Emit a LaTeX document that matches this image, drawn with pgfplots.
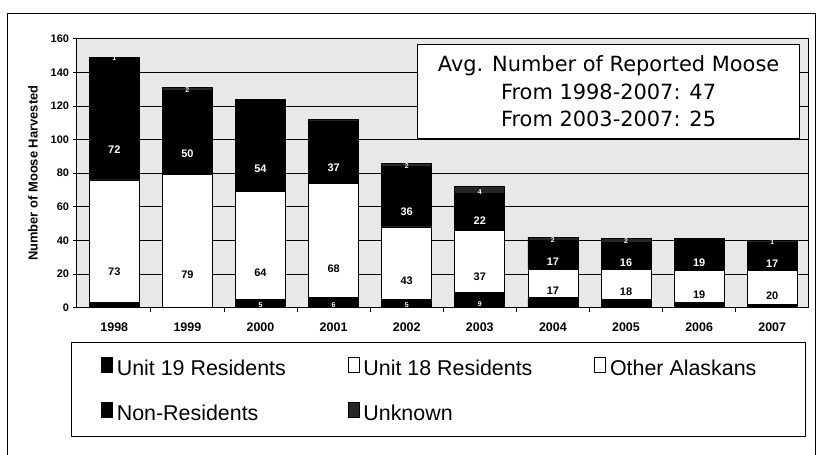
\documentclass[border=0pt]{standalone}
\usepackage{pgfplots}
\pgfplotsset{compat=1.18}
\usepackage{pgfplotstable}
\usepackage{fontspec}
\setmainfont{Liberation Sans}
\newfontfamily\boxfont{DejaVu Sans}

% moose harvested per year, split by hunter residency
\pgfplotstableread{
x u19 l19 u18 oth non unk lunk
0 3   {}  0   73  72  1   1
1 0   {}  0   79  50  2   2
2 5   5   0   64  54  1   {}
3 6   6   0   68  37  1   {}
4 5   5   0   43  36  2   2
5 9   9   0   37  22  4   4
6 6   {}  0   17  17  2   2
7 5   {}  0   18  16  2   2
8 3   {}  0   19  19  0   {}
9 2   {}  0   20  17  1   1
}\moose

% label in the middle of each stacked segment
% (the shift ends up applied twice, hence /4)
\pgfplotsset{
  seg/.style={nodes near coords, point meta=explicit symbolic,
    visualization depends on={rawy \as \segh},
    every node near coord/.append style={anchor=center,
      shift={(axis direction cs:0,-\segh/4)}}},
}
\newcommand\legtxt[2][233bp]{\makebox[#1][l]{\hspace{2bp}\rule[-4.6bp]{0pt}{24.6bp}#2}}

\begin{document}
\begin{tikzpicture}[x=1bp,y=1bp]
\useasboundingbox (0,0) rectangle (820,455);
\draw[line width=0.8bp] (7,0) -- (7,442) -- (815,442) -- (815,0);
\begin{axis}[
  at={(76.5bp,147.3bp)}, anchor=south west,
  width=731.5bp, height=269bp, scale only axis,
  ybar stacked, bar width=0.684,
  xmin=-0.517, xmax=9.49, ymin=0, ymax=160,
  ytick={0,20,...,160},
  xtick={0,...,9},
  xticklabels={1998,1999,2000,2001,2002,2003,2004,2005,2006,2007},
  minor xtick={0.5,1.5,...,8.5},
  major x tick style={draw=none},
  tick align=outside, tick pos=left,
  major tick length=4bp, minor tick length=4bp,
  tick style={black, line width=0.8bp},
  ymajorgrids, grid style={black, line width=0.8bp},
  axis line style={black, line width=0.8bp},
  axis background/.style={fill=black!9},
  /pgf/number format/assume math mode=true,
  yticklabel style={font=\fontsize{11}{13}\selectfont\bfseries},
  xticklabel style={font=\fontsize{12.5}{15}\selectfont\bfseries, yshift=-8bp},
  ylabel={Number of Moose Harvested},
  every axis y label/.style={at={(axis description cs:-0.0595,0.5)},
    rotate=90, anchor=center, font=\fontsize{13}{15}\selectfont\bfseries},
  every node near coord/.append style={font=\fontsize{11}{13}\selectfont\bfseries},
  legend columns=3, legend cell align=left,
  legend style={at={(0.0335,-0.1758)}, anchor=north west, draw=none, fill=none,
    inner sep=0pt, nodes={inner sep=0pt},
    font=\fontsize{21.5}{25}\selectfont, row sep=23.4bp,
    /tikz/every odd column/.style={column sep=2bp}},
  legend image code/.code={\draw[#1, line width=0.6bp] (0bp,-6bp) rectangle (11bp,8.5bp);},
]
\addplot[fill=black, draw=black, line width=0.8bp, seg,
  every node near coord/.append style={text=white, font=\fontsize{7}{8}\selectfont\bfseries}]
  table[x=x, y=u19, meta=l19] {\moose};
\addlegendentry{\legtxt{Unit 19 Residents}}
\addplot[fill=white, draw=black, line width=0.8bp]
  table[x=x, y=u18] {\moose};
\addlegendentry{\legtxt{Unit 18 Residents}}
\addplot[fill=white, draw=black, line width=0.8bp, seg,
  every node near coord/.append style={text=black}]
  table[x=x, y=oth, meta=oth] {\moose};
\addlegendentry{\legtxt[172bp]{Other Alaskans}}
\addplot[fill=black, draw=black, line width=0.8bp, seg,
  every node near coord/.append style={text=white}]
  table[x=x, y=non, meta=non] {\moose};
\addlegendentry{\legtxt{Non-Residents}}
\addplot[fill=black!85, draw=black, line width=0.8bp, seg,
  every node near coord/.append style={text=white, font=\fontsize{7}{8}\selectfont\bfseries}]
  table[x=x, y=unk, meta=lunk] {\moose};
\addlegendentry{\legtxt{Unknown}}
\end{axis}
\draw[line width=0.8bp] (71,19) rectangle (805,113);
\node[draw=black, line width=0.8bp, fill=white, anchor=north east,
  minimum width=382bp, minimum height=94bp, inner sep=0pt, align=center,
  font=\boxfont\fontsize{21}{27.5}\selectfont]
  at (800,411) {Avg. Number of Reported Moose\\From 1998-2007: 47\\From 2003-2007: 25};
\end{tikzpicture}
\end{document}
